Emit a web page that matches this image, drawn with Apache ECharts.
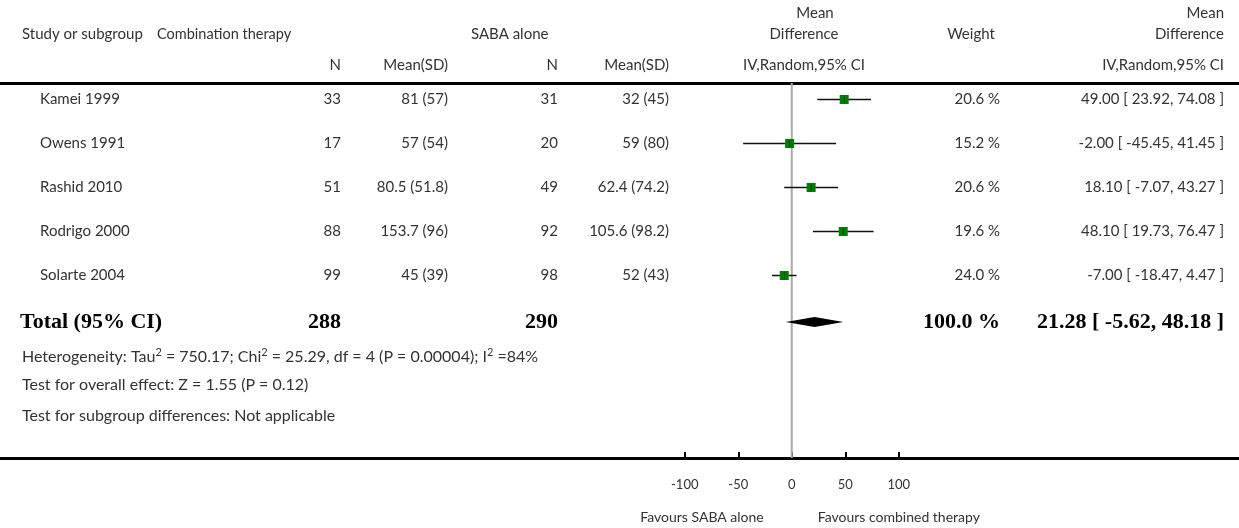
<!DOCTYPE html>
<html><head><meta charset="utf-8">
<script src="https://cdn.jsdelivr.net/npm/echarts@6/dist/echarts.min.js"></script>
<style>html,body{margin:0;padding:0;background:#fff}#c{width:1239px;height:528px}</style>
</head><body><div id="c"></div>
<script>
// ---- data ----
const studies = ['Kamei 1999','Owens 1991','Rashid 2010','Rodrigo 2000','Solarte 2004'];
const comboN = [33,17,51,88,99];
const comboMeanSD = ['81 (57)','57 (54)','80.5 (51.8)','153.7 (96)','45 (39)'];
const sabaN = [31,20,49,92,98];
const sabaMeanSD = ['32 (45)','59 (80)','62.4 (74.2)','105.6 (98.2)','52 (43)'];
const meanDiff = [49.00,-2.00,18.10,48.10,-7.00];
const ciLow = [23.92,-45.45,-7.07,19.73,-18.47];
const ciHigh = [74.08,41.45,43.27,76.47,4.47];
const weights = [20.6,15.2,20.6,19.6,24.0];
const totalN = [288,290];
const totalMD = [21.28,-5.62,48.18];
const totalWeight = 100.0;
const tickValues = [-100,-50,0,50,100];
const footerLines = [
  'Heterogeneity: Tau{sup|2} = 750.17; Chi{sup|2} = 25.29, df = 4 (P = 0.00004); I{sup|2} =84%',
  'Test for overall effect: Z = 1.55 (P = 0.12)',
  'Test for subgroup differences: Not applicable'
];
const favourLabels = ['Favours SABA alone','Favours combined therapy'];

// ---- layout ----
const FONT = 'Lato';
const SERIF = '"Liberation Serif"';
const TXT = '#333';
const BODY = '15px ' + FONT;
const ROW = 44;
const GRID_TOP = 83, GRID_BOTTOM = 70;
const Y_MAX = (528 - GRID_TOP - GRID_BOTTOM) / ROW;
const studyY = i => (16 + i * ROW) / ROW;
const totalY = (322 - GRID_TOP) / ROW;
const footerY = [357, 385, 416].map(p => (p - GRID_TOP) / ROW);
const COL = {study:40, n1:341, ms1:448, n2:558, ms2:669, w:1000, md:1224};
const fmt2 = v => v.toFixed(2);
const ciText = (m,l,h) => fmt2(m) + ' [ ' + fmt2(l) + ', ' + fmt2(h) + ' ]';

function txt(x, y, s, align, extra) {
  return {type:'text', x:x, y:y, style:Object.assign({text:s, textAlign:align, textVerticalAlign:'middle', font:BODY, fill:TXT}, extra||{})};
}

const chart = echarts.init(document.getElementById('c'), null, {renderer:'canvas'});
const rows = studies.map((s,i)=>[i]);

chart.setOption({
  animation:false,
  grid:{left:0,right:0,top:GRID_TOP,bottom:GRID_BOTTOM,containLabel:false},
  xAxis:[
    {type:'value', position:'bottom', min:-740, max:418, splitLine:{show:false},
     axisLine:{show:true, onZero:false, lineStyle:{color:'#000', width:3}},
     axisTick:{show:true, inside:true, length:6, customValues:tickValues, lineStyle:{color:'#000', width:2}},
     axisLabel:{show:true, customValues:tickValues, margin:20, fontSize:13, fontFamily:FONT, color:TXT}},
    {type:'value', position:'top', min:-740, max:418, splitLine:{show:false},
     axisLine:{show:true, onZero:false, lineStyle:{color:'#000', width:3}},
     axisTick:{show:false}, axisLabel:{show:false}}
  ],
  yAxis:{type:'value', inverse:true, min:0, max:Y_MAX, show:false},
  graphic:[
    txt(22,34,'Study or subgroup','left'),
    txt(157,34,'Combination therapy','left',{font:'14.5px ' + FONT}),
    txt(471,34,'SABA alone','left'),
    txt(COL.n1,65,'N','right'),
    txt(COL.ms1,65,'Mean(SD)','right'),
    txt(COL.n2,65,'N','right'),
    txt(COL.ms2,65,'Mean(SD)','right'),
    txt(815,13,'Mean','center'),
    txt(804,34,'Difference','center'),
    txt(804,65,'IV,Random,95% CI','center'),
    txt(971,34,'Weight','center'),
    txt(COL.md,13,'Mean','right'),
    txt(COL.md,34,'Difference','right'),
    txt(COL.md,65,'IV,Random,95% CI','right')
  ],
  series:[
    {
      type:'custom', coordinateSystem:'cartesian2d', silent:true, clip:false,
      data:[[0]],
      renderItem:(p,api)=>{
        const top = api.coord([0,0]), bot = api.coord([0,Y_MAX]);
        return {type:'line', shape:{x1:top[0],y1:top[1],x2:bot[0],y2:bot[1]}, style:{stroke:'#aaa', lineWidth:2}};
      }
    },
    {
      type:'custom', coordinateSystem:'cartesian2d', silent:true, clip:false,
      data:rows,
      renderItem:(p,api)=>{
        const i = api.value(0);
        const y = api.coord([0, studyY(i)])[1];
        const c = api.coord([meanDiff[i], studyY(i)]);
        const l = api.coord([ciLow[i], studyY(i)]);
        const h = api.coord([ciHigh[i], studyY(i)]);
        const s = 9;
        return {type:'group', children:[
          txt(COL.study,y,studies[i],'left'),
          txt(COL.n1,y,String(comboN[i]),'right'),
          txt(COL.ms1,y,comboMeanSD[i],'right'),
          txt(COL.n2,y,String(sabaN[i]),'right'),
          txt(COL.ms2,y,sabaMeanSD[i],'right'),
          txt(COL.w,y,weights[i].toFixed(1)+' %','right'),
          txt(COL.md,y,ciText(meanDiff[i],ciLow[i],ciHigh[i]),'right'),
          {type:'line', shape:{x1:l[0],y1:y+0.5,x2:h[0],y2:y+0.5}, style:{stroke:'#111', lineWidth:1.5}},
          {type:'rect', shape:{x:c[0]-s/2,y:y-s/2+0.5,width:s,height:s}, style:{fill:'#008000'}},
          {type:'line', shape:{x1:c[0],y1:y-2.5,x2:c[0],y2:y+3.5}, style:{stroke:'#222', lineWidth:1}}
        ]};
      }
    },
    {
      type:'custom', coordinateSystem:'cartesian2d', silent:true, clip:false,
      data:[[0]],
      renderItem:(p,api)=>{
        const y = api.coord([0,totalY])[1];
        const m = api.coord([totalMD[0],totalY]);
        const l = api.coord([totalMD[1],totalY]);
        const h = api.coord([totalMD[2],totalY]);
        const dh = 5;
        const bold = {font:'bold 22px ' + SERIF, fill:'#000'};
        const kids = [
          txt(20,y,'Total (95% CI)','left',bold),
          txt(COL.n1,y,String(totalN[0]),'right',bold),
          txt(COL.n2,y,String(totalN[1]),'right',bold),
          txt(COL.w,y,totalWeight.toFixed(1)+' %','right',bold),
          txt(COL.md,y,ciText(totalMD[0],totalMD[1],totalMD[2]),'right',bold),
          {type:'polygon', shape:{points:[[l[0],y],[m[0],y-dh],[h[0],y],[m[0],y+dh]]}, style:{fill:'#000'}}
        ];
        footerLines.forEach((f,k)=>{
          kids.push(txt(22, api.coord([0,footerY[k]])[1], f, 'left', {
            font:'16px ' + FONT,
            rich:{sup:{fontSize:11, fontFamily:FONT, fill:TXT, verticalAlign:'top', lineHeight:20}}
          }));
        });
        const zero = api.coord([0, Y_MAX]);
        kids.push(txt(zero[0]-28, zero[1]+59, favourLabels[0], 'right', {font:'14px ' + FONT}));
        kids.push(txt(zero[0]+26, zero[1]+59, favourLabels[1], 'left', {font:'14px ' + FONT}));
        return {type:'group', children:kids};
      }
    }
  ]
});
</script>
</body></html>
